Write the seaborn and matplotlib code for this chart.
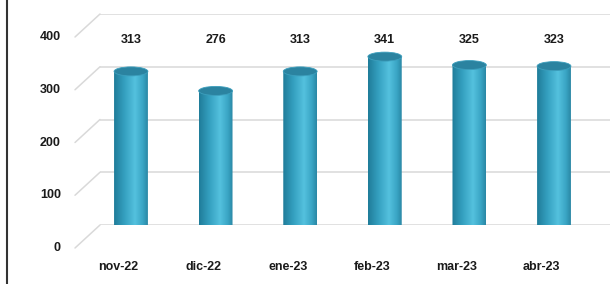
import matplotlib
matplotlib.use("Agg")
import matplotlib.pyplot as plt
import matplotlib.transforms as mtransforms
from matplotlib.patches import Ellipse, Polygon
from matplotlib.colors import LinearSegmentedColormap
from matplotlib.lines import Line2D
import numpy as np
import pandas as pd
import seaborn as sns

months = ["nov-22", "dic-22", "ene-23", "feb-23", "mar-23", "abr-23"]
values = [313, 276, 313, 341, 325, 323]
yticks = [0, 100, 200, 300, 400]

sns.set_theme(style="white")
plt.rcParams['font.family'] = ['Liberation Sans Narrow', 'Liberation Sans', 'DejaVu Sans']
plt.rcParams['font.weight'] = 'bold'

W, H, DPI = 610, 284, 100
fig = plt.figure(figsize=(W / DPI, H / DPI), dpi=DPI)

# back wall of the 3D chart
ax_l, ax_r, ax_top, ax_bot = 100, 610, 14, 225
ax = fig.add_axes([ax_l / W, (H - ax_bot) / H, (ax_r - ax_l) / W, (ax_bot - ax_top) / H])

df = pd.DataFrame({"mes": months, "valor": values})
sns.barplot(data=df, x="mes", y="valor", width=0.4, color="#3aa6c6", ax=ax,
            saturation=1, zorder=3)

ymax = 400
ax.set_ylim(0, ymax)
ax.set_xlim(-0.514, 5.514)
for s in ax.spines.values():
    s.set_visible(False)
ax.set_yticks(yticks)
ax.set_yticklabels([])
ax.tick_params(axis="both", length=0)
ax.yaxis.grid(True, color="#d9d9d9", lw=1.1, zorder=0)
ax.xaxis.grid(False)
ax.set_xlabel("")
ax.set_ylabel("")

px_per_unit_y = (ax_bot - ax_top) / ymax
depth_dx, depth_dy = 25, 23  # px from back wall to front plane

# depth lines and y tick labels
for v in yticks:
    dy_data = depth_dy / px_per_unit_y
    ax.plot([0, -depth_dx / (ax_r - ax_l)], [v, v - dy_data], color="#d9d9d9", lw=1.1,
            transform=ax.get_yaxis_transform(), clip_on=False, zorder=0)
    ax.text(-(depth_dx + 14) / (ax_r - ax_l), v - dy_data, str(v),
            transform=ax.get_yaxis_transform(), ha="right", va="center",
            fontsize=9, fontweight="bold", color="#1a1a1a")

# mid-depth offset transform for cylinders
mid = mtransforms.ScaledTranslation(-depth_dx / 2 / DPI, -depth_dy / 2 / DPI, fig.dpi_scale_trans)
trans_mid = ax.transData + mid

cmap = LinearSegmentedColormap.from_list("cyl", [
    (0.0, "#1f7c99"), (0.3, "#349fbf"), (0.62, "#54c1de"), (0.85, "#3aa5c5"), (1.0, "#2a87a4")])
grad = np.linspace(0, 1, 256).reshape(1, -1)
eh = 9 / px_per_unit_y

for p, v in zip(ax.patches, values):
    p.set_transform(trans_mid)
    x0, w = p.get_x(), p.get_width()
    xc = x0 + w / 2
    th = np.linspace(np.pi, 2 * np.pi, 60)
    bottom = np.column_stack([xc + w / 2 * np.cos(th), eh / 2 * np.sin(th)])
    poly = np.vstack([bottom, [[x0 + w, v], [x0, v]]])
    clip = Polygon(poly, closed=True, transform=trans_mid, facecolor="none", edgecolor="none")
    ax.add_patch(clip)
    im = ax.imshow(grad, cmap=cmap, aspect="auto", extent=[x0, x0 + w, -eh / 2, v],
                   transform=trans_mid, zorder=4, interpolation="bilinear")
    im.set_clip_path(clip)
    top = Ellipse((xc, v), w, eh, transform=trans_mid, facecolor="#2b83a0",
                  edgecolor="#3d9fbd", lw=0.6, zorder=5)
    ax.add_patch(top)
    p.set_visible(False)
    # value label
    lbl_tr = mtransforms.blended_transform_factory(ax.transData, ax.transAxes) + mid
    ax.text(xc, 0.93, str(v), transform=lbl_tr, ha="center", va="center",
            fontsize=9, fontweight="bold", color="#1a1a1a")

ax.set_ylim(0, ymax)
ax.set_xlim(-0.514, 5.514)

# category labels on the front plane
front = mtransforms.ScaledTranslation(-depth_dx / DPI, 0, fig.dpi_scale_trans)
ax.set_xticks(range(len(months)))
ax.set_xticklabels(months)
ax.tick_params(axis="x", pad=37 - 11, labelsize=9)
for lab in ax.get_xticklabels():
    lab.set_transform(lab.get_transform() + front)
    lab.set_fontweight("bold")
    lab.set_color("#1a1a1a")

# left border
fig.add_artist(Line2D([6.5 / W, 6.5 / W], [0, 1], transform=fig.transFigure, color="#333333", lw=1.5))

fig.savefig("out.png", dpi=DPI)
